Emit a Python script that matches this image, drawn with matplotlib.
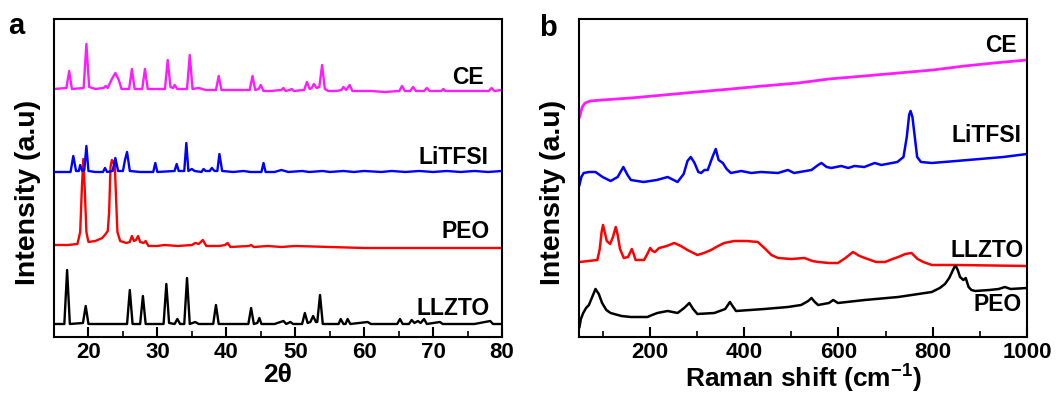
import matplotlib
matplotlib.use("Agg")
import matplotlib.pyplot as plt
from matplotlib.ticker import MultipleLocator

plt.rcParams['font.family'] = ['Liberation Sans', 'DejaVu Sans']
plt.rcParams['font.weight'] = 'bold'
plt.rcParams['mathtext.fontset'] = 'custom'
plt.rcParams['mathtext.bf'] = 'Liberation Sans:bold'
plt.rcParams['mathtext.rm'] = 'Liberation Sans:bold'
plt.rcParams['mathtext.default'] = 'bf'

# --- panel a : XRD (2theta, intensity a.u.) ---
xrd_ce = [(15, 248), (16.8, 249), (17.2, 266), (17.6, 248), (19.3, 249), (19.7, 293), (20.1, 250),
          (21.0, 248), (22.2, 249), (22.5, 251), (22.8, 249), (23.4, 258), (23.9, 264), (24.4, 257),
          (24.8, 248), (25.9, 248), (26.3, 268), (26.7, 248), (27.8, 248), (28.2, 268), (28.6, 248),
          (30.0, 248), (31.1, 248), (31.5, 277), (31.9, 250), (32.3, 249), (32.5, 252), (32.9, 248),
          (34.3, 248), (34.7, 282), (35.1, 248), (36.0, 249), (37.0, 247), (38.5, 247), (38.9, 261),
          (39.3, 247), (41.0, 247), (42.5, 247), (43.4, 247), (43.8, 261), (44.2, 247), (44.7, 248),
          (45.0, 252), (45.4, 246), (46.5, 246), (48.0, 247), (48.3, 249), (48.6, 246), (49.2, 247),
          (49.5, 248), (49.8, 246), (51.3, 247), (51.7, 255), (52.1, 248), (52.4, 249), (52.7, 253),
          (53.1, 249), (53.5, 250), (53.9, 272), (54.3, 248), (54.8, 246), (56.0, 246), (56.7, 247),
          (57.0, 250), (57.4, 247), (57.9, 252), (58.3, 246), (61.0, 246), (63.0, 245), (65.1, 246),
          (65.5, 251), (65.9, 246), (66.7, 246), (67.1, 250), (67.5, 246), (68.7, 246), (69.1, 249),
          (69.5, 246), (71.2, 246), (71.5, 248), (71.8, 246), (75.0, 246), (78.1, 246), (78.5, 249),
          (78.9, 246), (80, 247)]

xrd_litfsi = [(15, 165), (17.4, 165), (17.8, 181), (18.2, 166), (18.6, 166), (18.8, 172), (19.1, 166),
              (19.4, 167), (19.7, 191), (20.0, 166), (21.0, 165), (22.1, 165), (22.4, 169), (22.7, 165),
              (23.5, 166), (23.9, 179), (24.3, 166), (25.0, 166), (25.3, 177), (25.6, 185), (26.0, 166),
              (27.5, 165), (29.4, 165), (29.7, 174), (30.0, 165), (32.5, 166), (32.8, 173), (33.1, 166),
              (33.9, 166), (34.2, 194), (34.5, 166), (35.0, 168), (35.4, 166), (36.4, 165), (36.7, 168),
              (37.0, 166), (37.6, 166), (37.9, 169), (38.3, 166), (38.7, 166), (39.0, 183), (39.4, 166),
              (41.0, 165), (42.5, 166), (43.5, 165), (45.1, 165), (45.4, 174), (45.7, 165), (47.0, 165),
              (48.0, 167), (49.0, 165), (51.0, 166), (52.0, 165), (54.0, 166), (55.0, 165), (57.0, 166),
              (58.5, 165), (60.0, 166), (62.5, 165), (64.0, 166), (66.0, 165), (68.0, 166), (70.0, 165),
              (72.0, 166), (74.0, 165), (76.0, 166), (78.0, 165), (80, 166)]

xrd_peo = [(15, 92), (17.0, 92), (18.4, 93), (18.8, 105), (19.05, 150), (19.25, 178), (19.45, 150),
           (19.7, 105), (20.0, 95), (21.0, 96), (22.0, 99), (22.5, 103), (22.8, 106), (23.0, 125),
           (23.2, 170), (23.4, 177), (23.6, 174), (23.8, 176), (24.0, 140), (24.2, 105), (24.6, 96),
           (25.5, 94), (26.0, 95), (26.3, 101), (26.6, 96), (26.9, 97), (27.2, 101), (27.5, 95),
           (28.0, 94), (28.3, 96), (28.7, 91), (30.0, 91), (31.0, 92), (33.0, 91), (35.0, 92),
           (35.5, 94), (36.0, 93), (36.6, 97), (37.1, 91), (39.0, 91), (39.8, 92), (40.2, 94),
           (40.6, 90), (43.3, 91), (43.6, 92), (44.0, 90), (46.0, 91), (48.0, 90), (50.0, 91),
           (55.0, 90), (60.0, 89), (70.0, 89), (80, 89)]

xrd_llzto = [(15, 13), (16.5, 13), (16.9, 67), (17.3, 13), (19.2, 14), (19.6, 31), (20.0, 13), (22.0, 13),
             (24.0, 13), (25.6, 13), (26.0, 47), (26.4, 13), (27.5, 13), (27.9, 41), (28.3, 13), (29.5, 13),
             (30.9, 13), (31.3, 53), (31.7, 14), (32.5, 13), (32.9, 18), (33.3, 13), (33.9, 13), (34.3, 59),
             (34.7, 13), (35.5, 15), (36.0, 13), (38.1, 13), (38.5, 32), (38.9, 13), (41.0, 13), (43.2, 13),
             (43.6, 29), (44.0, 13), (44.5, 14), (44.8, 19), (45.1, 13), (47.0, 13), (48.3, 16), (48.7, 13),
             (49.3, 15), (49.7, 13), (51.0, 13), (51.4, 24), (51.8, 14), (52.2, 15), (52.6, 21), (53.0, 15),
             (53.2, 15), (53.6, 42), (54.0, 13), (55.0, 13), (56.3, 13), (56.6, 18), (57.0, 13), (57.3, 13),
             (57.6, 18), (58.0, 13), (60.5, 15), (61.0, 13), (64.8, 13), (65.2, 18), (65.6, 13), (66.5, 13),
             (66.9, 17), (67.3, 14), (67.8, 16), (68.2, 14), (68.7, 18), (69.1, 13), (71.0, 15), (71.4, 13),
             (76.0, 13), (78.3, 16), (78.7, 13), (80, 13)]

# --- panel b : Raman (shift cm-1, intensity a.u.) ---
raman_ce = [(51, 220), (54, 225), (57, 230), (63, 234), (74, 236), (100, 237), (160, 239), (230, 242),
            (300, 245), (372, 248), (440, 251), (515, 254), (580, 258), (655, 261), (728, 264),
            (800, 267), (868, 271), (930, 274), (1000, 277)]

raman_litfsi = [(51, 152), (55, 160), (60, 164), (72, 165), (85, 165), (100, 160), (117, 156), (132, 160),
                (144, 170), (153, 162), (160, 157), (187, 155), (215, 157), (238, 160), (259, 155),
                (272, 163), (280, 176), (287, 180), (295, 174), (303, 165), (309, 164), (316, 167),
                (323, 167), (333, 180), (340, 188), (346, 177), (355, 174), (363, 168), (372, 164),
                (394, 166), (415, 164), (436, 165), (472, 164), (493, 167), (506, 164), (543, 167),
                (557, 172), (564, 174), (575, 170), (585, 169), (606, 171), (621, 169), (634, 171),
                (655, 170), (677, 174), (691, 172), (725, 175), (738, 180), (745, 200), (750, 222),
                (753, 226), (757, 220), (762, 200), (767, 180), (775, 175), (798, 174), (850, 176),
                (900, 178), (950, 180), (1000, 183)]

raman_llzto = [(52, 75), (70, 76), (89, 77), (94, 88), (98, 105), (101, 112), (105, 104), (109, 96),
               (116, 93), (122, 100), (128, 110), (132, 102), (137, 88), (145, 79), (154, 80), (162, 88),
               (166, 83), (170, 77), (188, 77), (196, 84), (201, 89), (206, 86), (211, 85), (220, 89),
               (236, 91), (252, 94), (266, 91), (280, 87), (301, 82), (315, 84), (330, 87), (345, 91),
               (358, 94), (379, 96), (405, 96), (429, 95), (443, 89), (458, 82), (472, 79), (500, 78),
               (528, 79), (545, 76), (557, 75), (580, 74), (599, 74), (615, 79), (631, 85), (645, 81),
               (656, 79), (680, 75), (699, 75), (715, 78), (727, 80), (742, 83), (755, 84), (768, 78),
               (780, 75), (798, 72), (850, 72), (1000, 71)]

raman_peo = [(51, 10), (54, 18), (59, 24), (65, 29), (71, 32), (78, 40), (85, 48), (92, 43), (99, 34),
             (108, 27), (117, 24), (140, 21), (160, 20), (195, 20), (205, 22), (216, 24), (238, 26),
             (259, 24), (273, 29), (284, 34), (292, 28), (301, 23), (337, 24), (360, 28), (370, 35),
             (377, 30), (383, 26), (443, 28), (493, 30), (521, 32), (536, 36), (543, 39), (550, 35),
             (557, 32), (580, 34), (589, 37), (599, 34), (656, 37), (727, 40), (798, 45), (815, 49),
             (826, 53), (835, 59), (840, 64), (846, 70), (849, 71), (853, 67), (858, 60), (865, 57),
             (870, 59), (876, 50), (882, 47), (890, 46), (920, 47), (940, 48), (953, 50), (965, 48),
             (1000, 49)]

MAG = '#ff1aff'
BLUE = '#0000ff'
RED = '#ff0000'
BLACK = '#000000'

fig = plt.figure(figsize=(10.61, 3.93), dpi=100)
ax_a = fig.add_axes([0.0509, 0.1425, 0.4222, 0.8092])
ax_b = fig.add_axes([0.5457, 0.1425, 0.4223, 0.8092])

def trace(ax, pts, color, lw=1.7, z=2):
    xs = [p[0] for p in pts]
    ys = [p[1] for p in pts]
    ax.plot(xs, ys, color=color, lw=lw, zorder=z, solid_joinstyle='round')

trace(ax_a, xrd_ce, MAG)
trace(ax_a, xrd_peo, RED, z=2)
trace(ax_a, xrd_litfsi, BLUE, z=3)
trace(ax_a, xrd_llzto, BLACK)

trace(ax_b, raman_ce, MAG, lw=2.0)
trace(ax_b, raman_litfsi, BLUE, lw=1.8)
trace(ax_b, raman_llzto, RED, lw=1.8)
trace(ax_b, raman_peo, BLACK, lw=1.8)

fs = 16
lab = dict(fontsize=16.5, fontweight='bold', ha='right', va='bottom')
ax_a.text(77.3, 248, 'CE', **lab)
ax_a.text(78.0, 168, 'LiTFSI', **lab)
ax_a.text(78.2, 94, 'PEO', **lab)
ax_a.text(78.2, 17, 'LLZTO', **lab)

ax_b.text(979, 280, 'CE', **lab)
ax_b.text(989, 190, 'LiTFSI', **lab)
ax_b.text(994, 75, 'LLZTO', **lab)
ax_b.text(989, 21, 'PEO', **lab)

ax_a.set_xlim(15, 80)
ax_b.set_xlim(50, 1000)
for ax in (ax_a, ax_b):
    ax.set_ylim(0, 318)
    ax.set_yticks([])
    for s in ax.spines.values():
        s.set_linewidth(1.5)
    ax.tick_params(axis='x', which='major', direction='in', length=7, width=1.5,
                   labelsize=fs, pad=3.5, top=False)
    ax.tick_params(axis='x', which='minor', direction='in', length=4, width=1.2, top=False)
    ax.set_ylabel('Intensity (a.u)', fontsize=20.5, fontweight='bold')
    ax.yaxis.set_label_coords(-0.028, 0.455)

ax_a.xaxis.set_major_locator(MultipleLocator(10))
ax_a.xaxis.set_minor_locator(MultipleLocator(5))
ax_b.xaxis.set_major_locator(MultipleLocator(200))
ax_b.xaxis.set_minor_locator(MultipleLocator(100))

ax_a.set_xlabel('2θ', fontsize=19, fontweight='bold', labelpad=0)
ax_b.set_xlabel(r'Raman shift (cm$^{-1}$)', fontsize=19, fontweight='bold', labelpad=0)

fig.text(0.008, 0.97, 'a', fontsize=21, fontweight='bold', va='top')
fig.text(0.508, 0.965, 'b', fontsize=21, fontweight='bold', va='top')

fig.savefig('out.png', dpi=100)
